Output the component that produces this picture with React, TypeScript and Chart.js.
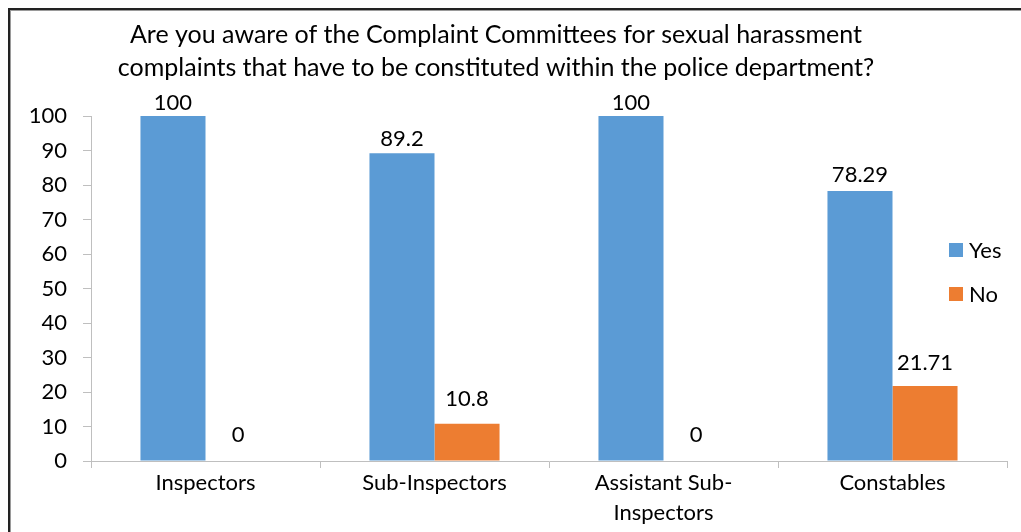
import React, { useEffect, useRef } from "react";
import { Chart, registerables } from "chart.js";

Chart.register(...registerables);

const titleLines = [
  "Are you aware of the Complaint Committees for sexual harassment",
  "complaints that have to be constituted within the police department?",
];
const categories = ["Inspectors", "Sub-Inspectors", "Assistant Sub-Inspectors", "Constables"];
const tickLabels = [["Inspectors"], ["Sub-Inspectors"], ["Assistant Sub-", "Inspectors"], ["Constables"]];
const seriesNames = ["Yes", "No"];
const yesValues = [100, 89.2, 100, 78.29];
const noValues = [0, 10.8, 0, 21.71];
const yTicks = [0, 10, 20, 30, 40, 50, 60, 70, 80, 90, 100];

const W = 1021;
const H = 532;
const FONT = "Lato, 'Open Sans', sans-serif";
const COLORS = ["#5B9BD5", "#ED7D31"];
const TXT = 22;

const decorPlugin = {
  id: "decor",
  beforeDraw(chart: any) {
    const ctx = chart.ctx;
    ctx.save();
    ctx.fillStyle = "#ffffff";
    ctx.fillRect(0, 0, W, H);
    ctx.fillStyle = "#222222";
    ctx.fillRect(8, 8, W - 8, 2);
    ctx.fillRect(8, 8, 2, H - 8);
    ctx.fillStyle = "#9a9a9a";
    ctx.fillRect(10, 10, W - 10, 1);
    ctx.fillRect(10, 10, 1, H - 10);
    ctx.restore();
  },
  afterDraw(chart: any) {
    const ctx = chart.ctx;
    ctx.save();
    // title
    ctx.fillStyle = "#000000";
    ctx.font = `25px ${FONT}`;
    ctx.textAlign = "center";
    ctx.textBaseline = "alphabetic";
    titleLines.forEach((t, i) => ctx.fillText(t, 496, 43 + i * 33));
    // data labels
    ctx.font = `${TXT}px ${FONT}`;
    chart.data.datasets.forEach((ds: any, di: number) => {
      const meta = chart.getDatasetMeta(di);
      meta.data.forEach((bar: any, i: number) => {
        const v = ds.data[i];
        const off = 6 + (100 - v) * 0.13;
        ctx.fillText(String(v), bar.x, bar.y - off);
      });
    });
    // legend
    ctx.textAlign = "left";
    ctx.textBaseline = "middle";
    chart.data.datasets.forEach((ds: any, di: number) => {
      const cy = 250 + di * 44;
      ctx.fillStyle = ds.backgroundColor;
      ctx.fillRect(949, cy - 7, 14, 14);
      ctx.fillStyle = "#000000";
      ctx.fillText(ds.label, 969, cy + 1);
    });
    ctx.restore();
  },
};

export default function App() {
  const ref = useRef<HTMLCanvasElement>(null);
  useEffect(() => {
    if (!ref.current) return;
    const chart = new Chart(ref.current, {
      type: "bar",
      data: {
        labels: tickLabels as any,
        datasets: [
          { label: seriesNames[0], data: yesValues, backgroundColor: COLORS[0], categoryPercentage: 0.568, barPercentage: 1 },
          { label: seriesNames[1], data: noValues, backgroundColor: COLORS[1], categoryPercentage: 0.568, barPercentage: 1 },
        ],
      },
      options: {
        responsive: false,
        animation: false,
        devicePixelRatio: 1,
        layout: { padding: { left: 0, top: 116, right: 14, bottom: 0 } },
        plugins: { legend: { display: false }, title: { display: false }, tooltip: { enabled: false } },
        scales: {
          x: {
            grid: { display: true, drawOnChartArea: false, tickLength: 7, color: "#bfbfbf", offset: true },
            border: { color: "#bfbfbf", width: 1 },
            ticks: { color: "#000000", font: { family: FONT, size: TXT, lineHeight: 1.36 }, padding: 0, maxRotation: 0, autoSkip: false },
            afterFit(scale: any) { scale.height = 71; },
          },
          y: {
            min: 0,
            max: 100,
            afterBuildTicks(scale: any) { scale.ticks = yTicks.map((v) => ({ value: v })); },
            grid: { display: true, drawOnChartArea: false, tickLength: 8, color: "#bfbfbf" },
            border: { color: "#bfbfbf", width: 1 },
            ticks: { color: "#000000", font: { family: FONT, size: TXT }, padding: 16 },
            afterFit(scale: any) { scale.width = 91; },
          },
        },
      },
      plugins: [decorPlugin],
    });
    return () => chart.destroy();
  }, []);
  return (
    <canvas
      ref={ref}
      width={W}
      height={H}
      style={{ position: "fixed", left: 0, top: 0, width: W, height: H }}
      aria-label={categories.join(", ")}
    />
  );
}
